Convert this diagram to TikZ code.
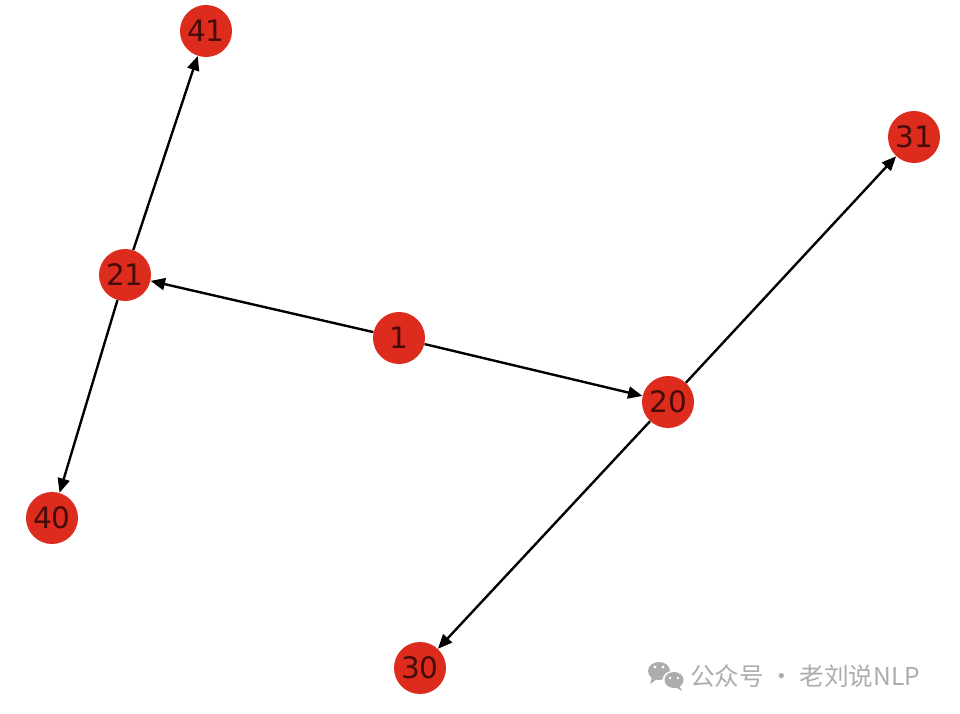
\documentclass[tikz,border=0pt]{standalone}
\usepackage{fontspec}
\setmainfont{DejaVu Sans}
\newfontfamily\cjkfont{Noto Sans CJK SC}
\usetikzlibrary{arrows.meta}

\definecolor{nodered}{RGB}{221,43,30}
\definecolor{labeldark}{RGB}{70,12,8}
\definecolor{markgray}{RGB}{172,172,172}

\begin{document}
\begin{tikzpicture}[x=0.025cm, y=-0.025cm, ->, >={Triangle[length=0.36cm, width=0.3cm]},
    vertex/.style={circle, fill=nodered, draw=none, minimum size=1.3cm, inner sep=0pt,
        text=labeldark, font=\fontsize{21}{21}\selectfont},
    link/.style={draw=black, line width=1.7pt}]
    \useasboundingbox (0,0) rectangle (960,714);

    \node[vertex] (n41) at (206,31) {41};
    \node[vertex] (n31) at (914,137) {31};
    \node[vertex] (n21) at (125,275) {21};
    \node[vertex] (n1) at (399,338) {1};
    \node[vertex] (n20) at (668,402) {20};
    \node[vertex] (n40) at (52,518) {40};
    \node[vertex] (n30) at (420,668) {30};

    \path[link] (n1) edge (n21);
    \path[link] (n1) edge (n20);
    \path[link] (n21) edge (n41);
    \path[link] (n21) edge (n40);
    \path[link] (n20) edge (n31);
    \path[link] (n20) edge (n30);

    % watermark
    \fill[markgray] (659,671) ellipse [x radius=11, y radius=9];
    \fill[markgray] (652,677) -- (650,684) -- (657,679) -- cycle;
    \fill[white] (674,680) ellipse [x radius=11.5, y radius=9.5];
    \fill[markgray] (674,680) ellipse [x radius=9.5, y radius=8];
    \fill[markgray] (679,685) -- (682,691) -- (675,687) -- cycle;
    \fill[white] (655,667) circle [radius=1.6];
    \fill[white] (663,667) circle [radius=1.6];
    \fill[white] (670,678) circle [radius=1.4];
    \fill[white] (678,678) circle [radius=1.4];
    \node[anchor=west, text=markgray, inner sep=0pt, font=\cjkfont\fontsize{17.5}{17.5}\selectfont]
        (mark) at (690,676) {公众号 · 老刘说NLP};
\end{tikzpicture}
\end{document}
